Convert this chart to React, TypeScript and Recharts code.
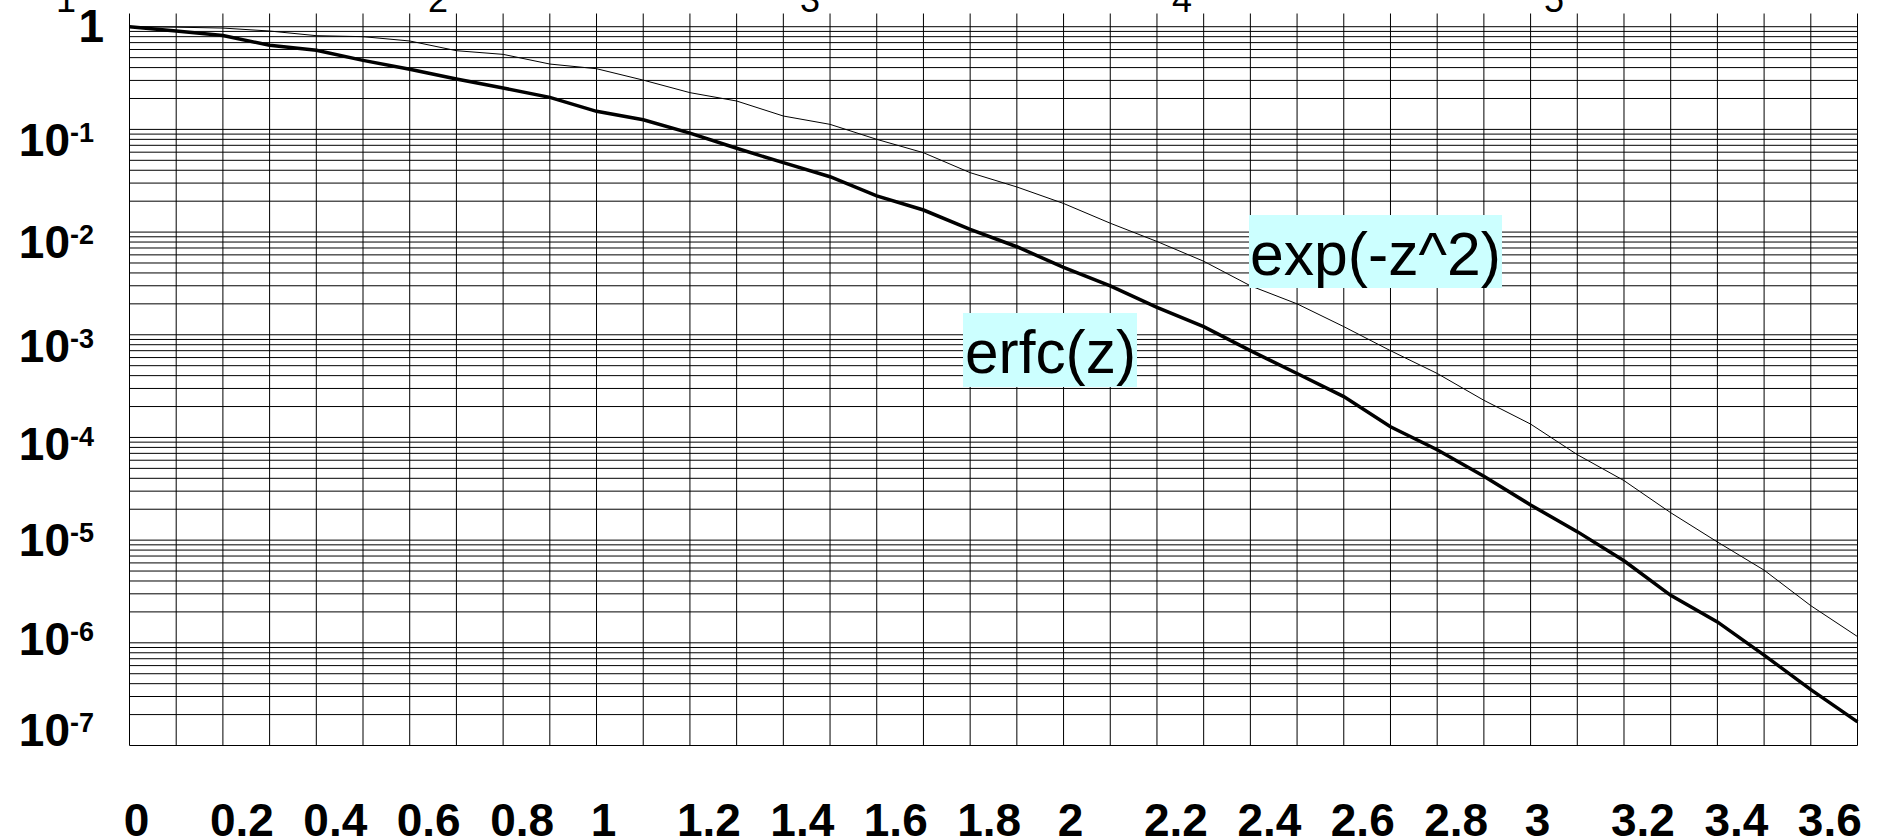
import React from 'react';
import { LineChart, Line, XAxis, YAxis, ReferenceLine } from 'recharts';

// ---- data ----
const zValues = [
  0, 0.1, 0.2, 0.3, 0.4, 0.5, 0.6, 0.7, 0.8, 0.9,
  1.0, 1.1, 1.2, 1.3, 1.4, 1.5, 1.6, 1.7, 1.8, 1.9,
  2.0, 2.1, 2.2, 2.3, 2.4, 2.5, 2.6, 2.7, 2.8, 2.9,
  3.0, 3.1, 3.2, 3.3, 3.4, 3.5, 3.6, 3.7,
];

const erfcValues = [
  1.0, 0.91, 0.82, 0.66, 0.59, 0.47, 0.385, 0.31, 0.253, 0.205,
  0.15, 0.124, 0.092, 0.0655, 0.0474, 0.0346, 0.0225, 0.0164, 0.0106, 0.0072,
  0.00454, 0.00299, 0.00185, 0.0012, 0.0007, 0.00042, 0.00025, 0.000127, 0.000076, 0.000042,
  0.000022, 0.0000121, 0.0000063, 0.0000029, 0.0000016, 0.00000076, 0.00000035, 0.00000017,
];

const expValues = [
  1.0, 0.99, 0.97, 0.908, 0.818, 0.8, 0.726, 0.584, 0.538, 0.433,
  0.39, 0.302, 0.228, 0.189, 0.135, 0.112, 0.08, 0.0593, 0.0379, 0.0275,
  0.019, 0.0122, 0.0081, 0.0052, 0.003, 0.002, 0.0012, 0.0007, 0.00042, 0.00023,
  0.000135, 0.000068, 0.000038, 0.0000185, 0.0000096, 0.0000051, 0.0000023, 0.00000115,
];

const xTickValues = [0, 0.2, 0.4, 0.6, 0.8, 1, 1.2, 1.4, 1.6, 1.8, 2, 2.2, 2.4, 2.6, 2.8, 3, 3.2, 3.4, 3.6];
const yTickValues = [1, 1e-1, 1e-2, 1e-3, 1e-4, 1e-5, 1e-6, 1e-7];

const xGridValues = zValues;
const gridMantissas = [1, 2, 3, 4, 5, 6, 7, 8, 9];
const gridExponents = [-7, -6, -5, -4, -3, -2, -1];

const seriesLabels = ['erfc(z)', 'exp(-z^2)'];
const topRowLabels = ['1', '2', '3', '4', '5', '6'];

// ---- styles ----
const W = 1879;
const H = 838;
const FONT = '"Liberation Sans", Arial, Helvetica, sans-serif';
const Y_LABEL_DY = [15, 26.5, 26, 27, 22.5, 16, 12, 0];

const data = zValues.map((z, i) => ({ z, erfc: erfcValues[i], exp: expValues[i] }));
const yGridValues = [1, ...gridExponents.flatMap((e) => gridMantissas.map((m) => Number((m * Math.pow(10, e)).toPrecision(3))))];

const XTick = (props: any) => {
  const { x, payload } = props;
  const v = payload.value as number;
  const dx = Number.isInteger(v) ? 7 : 19;
  return (
    <text x={x + dx} y={836} textAnchor="middle" fontFamily={FONT} fontWeight="bold" fontSize={46} fill="#000">
      {String(v)}
    </text>
  );
};

const YTick = (props: any) => {
  const { y, payload } = props;
  const v = payload.value as number;
  const e = Math.round(Math.log10(v));
  const dy = Y_LABEL_DY[-e] ?? 0;
  if (e === 0) {
    return (
      <text x={104} y={y + dy} textAnchor="end" fontFamily={FONT} fontWeight="bold" fontSize={46} fill="#000">
        1
      </text>
    );
  }
  return (
    <text x={94} y={y + dy} textAnchor="end" fontFamily={FONT} fontWeight="bold" fontSize={46} fill="#000">
      10
      <tspan fontSize={27} dy={-14}>{String(e)}</tspan>
    </text>
  );
};

export default function App() {
  return (
    <div style={{ position: 'absolute', left: 0, top: 0, width: W, height: H, background: '#fff', overflow: 'hidden' }}>
      <LineChart
        width={W}
        height={H}
        data={data}
        margin={{ top: 13.5, right: 21.5, bottom: 0, left: 0 }}
      >
        <XAxis
          dataKey="z"
          type="number"
          domain={[0, 3.7]}
          ticks={xTickValues}
          interval={0}
          axisLine={false}
          tickLine={false}
          height={92.5}
          tick={<XTick />}
        />
        <YAxis
          type="number"
          scale="log"
          domain={[1e-7, 1.345]}
          allowDataOverflow
          ticks={yTickValues}
          interval={0}
          axisLine={false}
          tickLine={false}
          width={129.5}
          tick={<YTick />}
        />
        {yGridValues.map((v) => (
          <ReferenceLine key={'h' + v} y={v} stroke="#000" strokeWidth={1} ifOverflow="visible" />
        ))}
        {xGridValues.map((v) => (
          <ReferenceLine key={'v' + v} x={v} stroke="#000" strokeWidth={1} ifOverflow="visible" />
        ))}
        <Line type="linear" dataKey="exp" stroke="#000" strokeWidth={1} dot={false} isAnimationActive={false} />
        <Line type="linear" dataKey="erfc" stroke="#000" strokeWidth={3.5} dot={false} isAnimationActive={false} />
      </LineChart>
      <svg width={W} height={H} style={{ position: 'absolute', left: 0, top: 0, pointerEvents: 'none' }}>
        <rect x={963} y={313} width={174} height={74} fill="#ccffff" />
        <text x={965} y={373} fontFamily={FONT} fontSize={62} fill="#000" textLength={171} lengthAdjust="spacingAndGlyphs">
          {seriesLabels[0]}
        </text>
        <rect x={1249} y={215} width={253} height={73} fill="#ccffff" />
        <text x={1250} y={275} fontFamily={FONT} fontSize={62} fill="#000" textLength={251} lengthAdjust="spacingAndGlyphs">
          {seriesLabels[1]}
        </text>
        {topRowLabels.map((t, i) => (
          <text key={t} x={66 + i * 372} y={12} textAnchor="middle" fontFamily={FONT} fontSize={36} fill="#000">
            {t}
          </text>
        ))}
      </svg>
    </div>
  );
}
